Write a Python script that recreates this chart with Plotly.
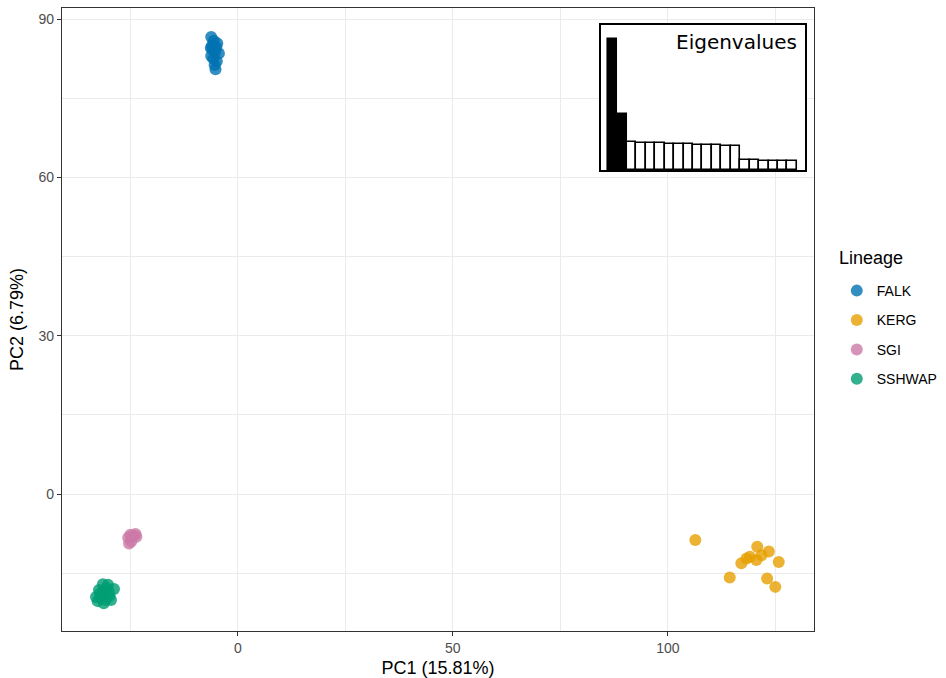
import plotly.graph_objects as go

# PCA scores per lineage (PC1, PC2)
falk_pc1 = [-6.2, -5.6, -4.8, -6.3, -5.9, -4.4, -5.3, -6.2, -5.7, -4.9, -5.4, -5.2, -6.0, -5.0]
falk_pc2 = [86.6, 85.9, 85.4, 84.5, 84.3, 83.5, 83.8, 83.0, 82.5, 82.0, 81.3, 80.5, 85.0, 84.6]

kerg_pc1 = [106.4, 120.8, 123.5, 119.1, 117.1, 121.8, 120.6, 125.8, 114.4, 123.1, 125.0, 118.3]
kerg_pc2 = [-8.7, -10.0, -10.9, -11.9, -13.1, -11.6, -12.5, -12.9, -15.8, -16.0, -17.6, -12.2]

sgi_pc1 = [-25.3, -24.8, -25.5, -24.6, -23.8, -24.2, -23.6, -25.0]
sgi_pc2 = [-9.4, -9.0, -8.3, -8.0, -7.6, -7.9, -8.1, -7.7]

sshwap_pc1 = [-31.4, -30.2, -28.8, -32.3, -31.2, -30.0, -33.0, -31.9, -30.7, -29.8,
              -32.6, -31.2, -29.5, -32.1, -30.5]
sshwap_pc2 = [-17.1, -17.2, -18.0, -18.2, -18.4, -18.6, -19.5, -19.7, -20.1, -19.3,
              -20.3, -20.7, -20.1, -18.9, -17.8]

lineages = ["FALK", "KERG", "SGI", "SSHWAP"]
colors = ["#0072B2", "#E69F00", "#CC79A7", "#009E73"]
pc1_sets = [falk_pc1, kerg_pc1, sgi_pc1, sshwap_pc1]
pc2_sets = [falk_pc2, kerg_pc2, sgi_pc2, sshwap_pc2]

# Eigenvalue scree (first two axes shown filled)
eig_values = [15.81, 6.79, 3.32, 3.28, 3.24, 3.20, 3.16, 3.12, 3.08, 3.04, 3.0, 2.95,
              2.90, 2.84, 1.20, 1.17, 1.14, 1.11, 1.08, 1.05]
eig_fill = ["black" if i < 2 else "white" for i in range(len(eig_values))]

x_ticks = [0, 50, 100]
y_ticks = [0, 30, 60, 90]

fig = go.Figure()

for name, col, xs, ys in zip(lineages, colors, pc1_sets, pc2_sets):
    fig.add_trace(go.Scatter(
        x=xs, y=ys, mode="markers", name=name, legendgroup=name,
        marker=dict(color=col, size=12, opacity=0.8),
    ))

fig.add_trace(go.Bar(
    x=list(range(1, len(eig_values) + 1)), y=eig_values,
    marker=dict(color=eig_fill, line=dict(color="black", width=1.6)),
    width=1, xaxis="x2", yaxis="y2", showlegend=False,
))

grid = "#ebebeb"
frame = "#333333"
tick_font = dict(family="Liberation Sans, Arial, sans-serif", size=14, color="#4d4d4d")
title_font = dict(family="Liberation Sans, Arial, sans-serif", size=18, color="black")

fig.update_layout(
    width=946, height=678,
    margin=dict(l=62, r=132, t=8, b=47, autoexpand=False),
    paper_bgcolor="white", plot_bgcolor="white",
    font=dict(family="Liberation Sans, Arial, sans-serif"),
    xaxis=dict(
        range=[-40.9, 134.0], tickvals=x_ticks, ticks="outside", ticklen=4,
        tickcolor=frame, tickfont=tick_font, showgrid=True, gridcolor=grid, gridwidth=1.1,
        minor=dict(tickvals=[-25, 25, 75, 125], showgrid=True, gridcolor=grid, gridwidth=0.6, ticks=""),
        showline=True, linecolor=frame, linewidth=1.2, mirror=True, zeroline=False,
        title=dict(text="PC1 (15.81%)", font=title_font, standoff=6),
    ),
    yaxis=dict(
        range=[-25.96, 92.1], tickvals=y_ticks, ticks="outside", ticklen=4,
        tickcolor=frame, tickfont=tick_font, showgrid=True, gridcolor=grid, gridwidth=1.1,
        minor=dict(tickvals=[-15, 15, 45, 75], showgrid=True, gridcolor=grid, gridwidth=0.6, ticks=""),
        showline=True, linecolor=frame, linewidth=1.2, mirror=True, zeroline=False,
        title=dict(text="PC2 (6.79%)", font=title_font, standoff=10),
    ),
    xaxis2=dict(
        domain=[0.7168, 0.988], anchor="y2", range=[-0.24, 21.35],
        showticklabels=False, ticks="", showgrid=False, zeroline=False,
        showline=True, linecolor="black", linewidth=2, mirror=True,
    ),
    yaxis2=dict(
        domain=[0.740, 0.9727], anchor="x2", range=[0, 17.46],
        showticklabels=False, ticks="", showgrid=False, zeroline=False,
        showline=True, linecolor="black", linewidth=2, mirror=True,
    ),
    bargap=0,
    legend=dict(
        font=dict(size=14, color="black"),
        x=1.0303, xanchor="left", y=0.5714, yanchor="top",
        bgcolor="rgba(0,0,0,0)", itemsizing="constant",
        tracegroupgap=8.2,
    ),
    annotations=[
        dict(
            text="Eigenvalues", xref="x2 domain", yref="y2 domain", x=0.97, y=0.98,
            xanchor="right", yanchor="top", showarrow=False,
            font=dict(family="DejaVu Sans", size=20, color="black"),
        ),
        dict(
            text="Lineage", xref="paper", yref="paper", x=1.0306, y=0.5987,
            xanchor="left", yanchor="middle", showarrow=False,
            font=dict(size=18, color="black"),
        ),
    ],
)

fig.write_html("out.html")
